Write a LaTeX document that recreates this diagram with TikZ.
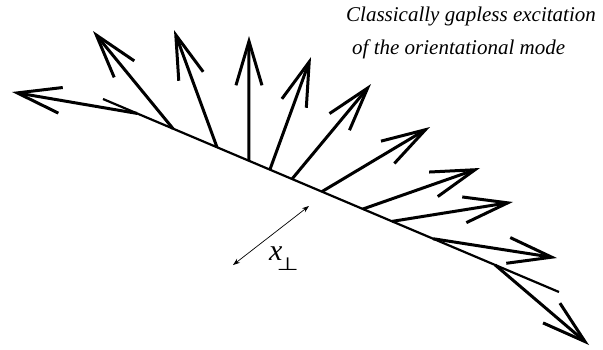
\documentclass[tikz,border=0pt]{standalone}
\usepackage{fontspec}
\setmainfont{Liberation Serif}
\newfontfamily\perpfont{DejaVu Sans}
\usepackage{tikz}
\usetikzlibrary{arrows.meta,calc}

\begin{document}
\begin{tikzpicture}[x=1pt,y=-1pt,
  spin/.style={line width=3pt,-{Straight Barb[length=44pt,width=26pt]}},
  wall/.style={line width=2.2pt},
  caption/.style={font=\fontsize{21}{24}\selectfont\itshape,anchor=base west,inner sep=0pt}]
\useasboundingbox (0,0) rectangle (603,349);

\coordinate (wallL) at (103,99);
\coordinate (wallR) at (559,292);
\draw[wall] (wallL) -- (wallR);

% spins sitting on the wall: fraction along the wall / tip
\foreach \p/\hx/\hy [count=\i] in {0.0746/12/92, 0.1535/93/31, 0.25/174/30,
    0.32/249/36, 0.366/311/57, 0.4145/371/84, 0.48/430/127, 0.57/480/168,
    0.634/513/202, 0.724/557/258, 0.86/589/345}{
    \coordinate (s\i) at ($(wallL)!\p!(wallR)$);
    \draw[spin] (s\i) -- (\hx,\hy);
}

\coordinate (pA) at (233,265);
\coordinate (pB) at (309,206);
\draw[line width=0.7pt,{Stealth[length=7pt,width=5pt]}-{Stealth[length=7pt,width=5pt]}] (pA) -- (pB);

\node[anchor=base west,inner sep=0pt,font=\fontsize{30}{30}\selectfont\itshape] (xperp) at (269,260)
  {x\kern-6pt\raisebox{-10pt}{\scalebox{0.85}[0.6]{\perpfont\upshape ⊥}}};

\node[caption] (cap1) at (346,21) {Classically gapless excitation};
\node[caption] (cap2) at (352,54) {of the orientational mode};

\end{tikzpicture}
\end{document}
